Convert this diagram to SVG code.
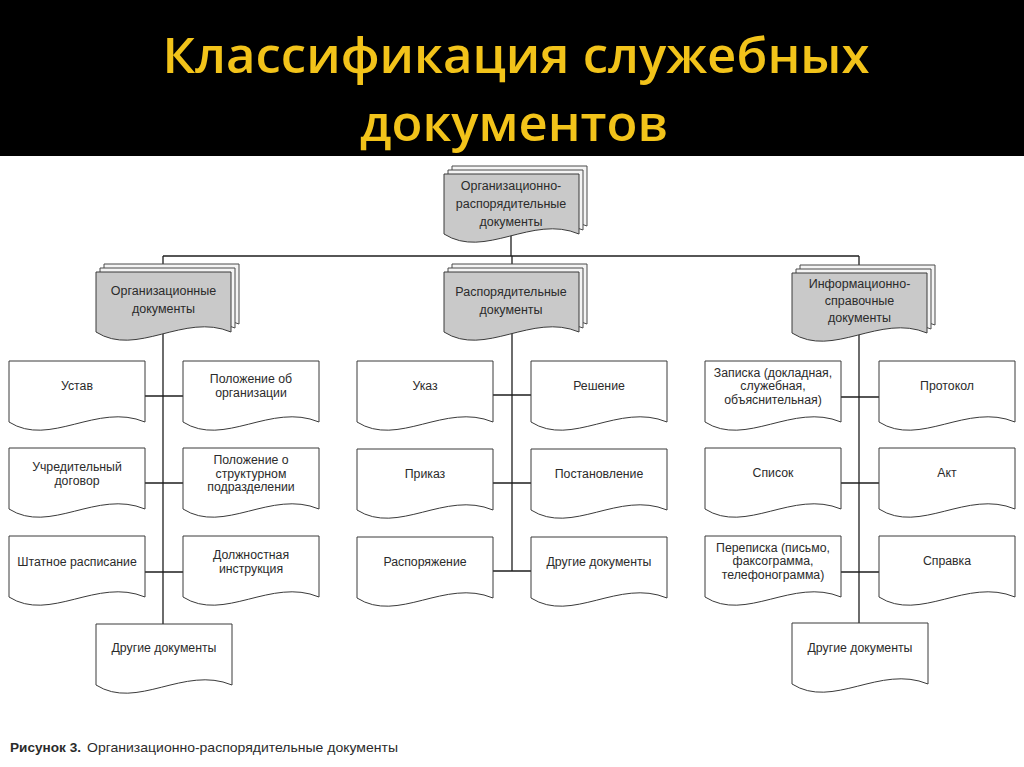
<svg xmlns="http://www.w3.org/2000/svg" xmlns:xlink="http://www.w3.org/1999/xlink" width="1024" height="767" viewBox="0 0 1024 767">
<style>
.leaf{fill:#ffffff;stroke:#3a3a3a;stroke-width:1}
.front{fill:#c9c9c9;stroke:#3a3a3a;stroke-width:1}
.back{fill:#f4f4f4;stroke:#4a4a4a;stroke-width:1}
.conn{stroke:#1e1e1e;stroke-width:1.3;fill:none}
.t{font-family:"Liberation Sans",Arial,sans-serif;font-size:12.3px;fill:#2b2b2b;text-anchor:middle}
.c{font-family:"Liberation Sans",Arial,sans-serif;font-size:12.5px;fill:#2b2b2b;text-anchor:middle}
.title{font-family:"Open Sans","Noto Sans",sans-serif;font-size:48px;font-weight:600;fill:#f2c31a;text-anchor:middle}
.cap{font-family:"Liberation Sans",Arial,sans-serif;font-size:13px;fill:#2b2b2b}
</style>
<defs>
<path id="doc" d="M0,0 H136 V61 C88,41 41,87 0,61 Z"/>
<path id="cat" d="M0,0 H135 V60 C88,40 41,86 0,60 Z"/>
</defs>
<rect x="0" y="0" width="1024" height="767" fill="#ffffff"/>
<rect x="0" y="0" width="1024" height="156" fill="#000000"/>
<g id="title">
<text class="title" x="516" y="73" textLength="707" lengthAdjust="spacingAndGlyphs">Классификация служебных</text>
<text class="title" x="514" y="141" textLength="308" lengthAdjust="spacingAndGlyphs">документов</text>
</g>
<g id="connectors">
<line class="conn" x1="511" y1="220" x2="511" y2="256"/>
<line class="conn" x1="163" y1="256" x2="859" y2="256"/>
<line class="conn" x1="163" y1="256" x2="163" y2="624"/>
<line class="conn" x1="512" y1="256" x2="512" y2="571"/>
<line class="conn" x1="859" y1="256" x2="859" y2="623"/>
<line class="conn" x1="145" y1="396" x2="183" y2="396"/>
<line class="conn" x1="145" y1="483" x2="183" y2="483"/>
<line class="conn" x1="145" y1="572" x2="183" y2="572"/>
<line class="conn" x1="493" y1="395" x2="531" y2="395"/>
<line class="conn" x1="493" y1="483" x2="531" y2="483"/>
<line class="conn" x1="493" y1="571" x2="531" y2="571"/>
<line class="conn" x1="840" y1="397" x2="879" y2="397"/>
<line class="conn" x1="840" y1="483" x2="879" y2="483"/>
<line class="conn" x1="840" y1="572" x2="879" y2="572"/>
</g>
<g id="n-top">
<use href="#cat" class="back" x="452" y="166"/>
<use href="#cat" class="back" x="448" y="170"/>
<use href="#cat" class="front" x="444" y="174"/>
<text class="c" x="511" y="189.5">Организационно-</text>
<text class="c" x="511" y="207.5">распорядительные</text>
<text class="c" x="511" y="225.5">документы</text>
</g>
<g id="n-org">
<use href="#cat" class="back" x="104" y="264"/>
<use href="#cat" class="back" x="100" y="268"/>
<use href="#cat" class="front" x="96" y="272"/>
<text class="c" x="163.5" y="294.5">Организационные</text>
<text class="c" x="163.5" y="312.5">документы</text>
</g>
<g id="n-rasp">
<use href="#cat" class="back" x="452" y="264"/>
<use href="#cat" class="back" x="448" y="268"/>
<use href="#cat" class="front" x="444" y="272"/>
<text class="c" x="511" y="296">Распорядительные</text>
<text class="c" x="511" y="314">документы</text>
</g>
<g id="n-info">
<use href="#cat" class="back" x="800" y="265"/>
<use href="#cat" class="back" x="796" y="269"/>
<use href="#cat" class="front" x="792" y="273"/>
<text class="c" x="859.5" y="287.5">Информационно-</text>
<text class="c" x="859.5" y="304.5">справочные</text>
<text class="c" x="859.5" y="321.5">документы</text>
</g>
<g id="l-ustav"><use href="#doc" class="leaf" x="9" y="361"/><text class="t" x="77" y="390">Устав</text></g>
<g id="l-polozh-org"><use href="#doc" class="leaf" x="183" y="361"/><text class="t" x="251" y="383">Положение об</text><text class="t" x="251" y="396.5">организации</text></g>
<g id="l-uchr"><use href="#doc" class="leaf" x="9" y="448"/><text class="t" x="77" y="471">Учредительный</text><text class="t" x="77" y="484.5">договор</text></g>
<g id="l-polozh-str"><use href="#doc" class="leaf" x="183" y="448"/><text class="t" x="251" y="464">Положение о</text><text class="t" x="251" y="477.5">структурном</text><text class="t" x="251" y="491">подразделении</text></g>
<g id="l-shtat"><use href="#doc" class="leaf" x="9" y="536"/><text class="t" x="77" y="566">Штатное расписание</text></g>
<g id="l-dolzh"><use href="#doc" class="leaf" x="183" y="536"/><text class="t" x="251" y="559">Должностная</text><text class="t" x="251" y="572.5">инструкция</text></g>
<g id="l-drug1"><use href="#doc" class="leaf" x="96" y="624"/><text class="t" x="164" y="652">Другие документы</text></g>
<g id="l-ukaz"><use href="#doc" class="leaf" x="357" y="361"/><text class="t" x="425" y="390">Указ</text></g>
<g id="l-resh"><use href="#doc" class="leaf" x="531" y="361"/><text class="t" x="599" y="390">Решение</text></g>
<g id="l-prikaz"><use href="#doc" class="leaf" x="357" y="449"/><text class="t" x="425" y="478">Приказ</text></g>
<g id="l-post"><use href="#doc" class="leaf" x="531" y="449"/><text class="t" x="599" y="478">Постановление</text></g>
<g id="l-rasp"><use href="#doc" class="leaf" x="357" y="537"/><text class="t" x="425" y="566">Распоряжение</text></g>
<g id="l-drug2"><use href="#doc" class="leaf" x="531" y="537"/><text class="t" x="599" y="566">Другие документы</text></g>
<g id="l-zap"><use href="#doc" class="leaf" x="705" y="361"/><text class="t" x="773" y="376.5">Записка (докладная,</text><text class="t" x="773" y="390">служебная,</text><text class="t" x="773" y="403.5">объяснительная)</text></g>
<g id="l-prot"><use href="#doc" class="leaf" x="879" y="361"/><text class="t" x="947" y="390">Протокол</text></g>
<g id="l-spis"><use href="#doc" class="leaf" x="705" y="448"/><text class="t" x="773" y="477">Список</text></g>
<g id="l-akt"><use href="#doc" class="leaf" x="879" y="448"/><text class="t" x="947" y="477">Акт</text></g>
<g id="l-perep"><use href="#doc" class="leaf" x="705" y="536"/><text class="t" x="773" y="551.5">Переписка (письмо,</text><text class="t" x="773" y="565">факсограмма,</text><text class="t" x="773" y="578.5">телефонограмма)</text></g>
<g id="l-sprav"><use href="#doc" class="leaf" x="879" y="536"/><text class="t" x="947" y="565">Справка</text></g>
<g id="l-drug3"><use href="#doc" class="leaf" x="792" y="623"/><text class="t" x="860" y="652">Другие документы</text></g>
<g id="caption">
<text class="cap" x="10" y="752" font-weight="bold" textLength="71" lengthAdjust="spacingAndGlyphs">Рисунок 3.</text>
<text class="cap" x="87" y="752" textLength="311" lengthAdjust="spacingAndGlyphs">Организационно-распорядительные документы</text>
</g>
</svg>
